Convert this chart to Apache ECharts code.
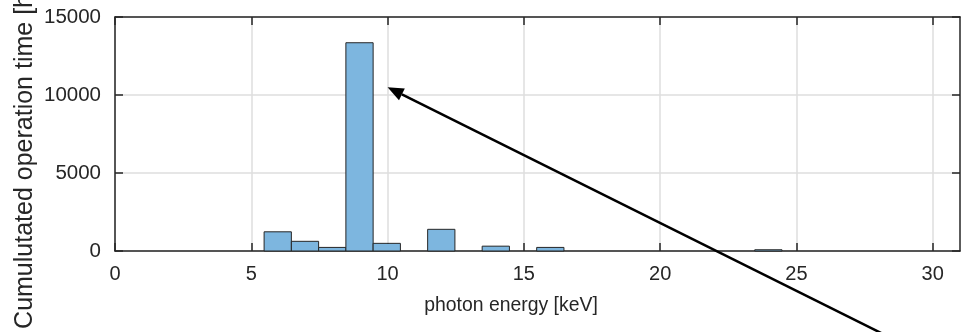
<!DOCTYPE html>
<html>
<head>
<meta charset="utf-8">
<script src="https://cdn.jsdelivr.net/npm/echarts@6/dist/echarts.min.js"></script>
<style>
  html, body { margin: 0; padding: 0; background: #fff; }
  #chart { width: 966px; height: 332px; }
</style>
</head>
<body>
<div id="chart"></div>
<script>
// histogram bins (left edge, keV) and counts (hours)
const binStarts = [5.47, 6.47, 7.47, 8.47, 9.47, 11.47, 13.47, 15.47, 23.47];
const binCounts = [1230, 620, 230, 13350, 490, 1390, 310, 230, 80];
const binWidth = 1;

const xTicks = [0, 5, 10, 15, 20, 25, 30];
const yTicks = [0, 5000, 10000, 15000];

// arrow annotation, in data coords: tip and tail
const arrowTip = [10, 10500];
const arrowTail = [28.5, -5600];

const font = 'Liberation Sans, Arial, Helvetica, sans-serif';
const axisColor = '#262626';
const gridColor = '#dedede';

const chart = echarts.init(document.getElementById('chart'));

const baseX = {
  type: 'value',
  min: 0,
  max: 31,
  interval: 5,
  axisLine: { show: true, onZero: false, lineStyle: { color: axisColor, width: 1.5 } },
  axisTick: { show: true, inside: true, length: 8, lineStyle: { color: axisColor, width: 1.5 },
    customValues: xTicks },
  splitLine: { show: false }
};
const baseY = {
  type: 'value',
  min: 0,
  max: 15000,
  interval: 5000,
  axisLine: { show: true, onZero: false, lineStyle: { color: axisColor, width: 1.5 } },
  axisTick: { show: true, inside: true, length: 8, lineStyle: { color: axisColor, width: 1.5 } },
  splitLine: { show: false }
};

const option = {
  animation: false,
  grid: { left: 115, top: 17, right: 6, bottom: 81, containLabel: false },
  xAxis: [
    Object.assign({}, baseX, {
      position: 'bottom',
      axisLabel: { color: axisColor, fontSize: 20, fontFamily: font, margin: 13,
        customValues: xTicks, formatter: v => String(v) },
      splitLine: { show: true, lineStyle: { color: gridColor, width: 1.5 } }
    }),
    Object.assign({}, baseX, { position: 'top', axisLabel: { show: false } })
  ],
  yAxis: [
    Object.assign({}, baseY, {
      position: 'left',
      axisLabel: { color: axisColor, fontSize: 20.5, fontFamily: font, margin: 14,
        customValues: yTicks, formatter: v => String(v) },
      splitLine: { show: true, lineStyle: { color: gridColor, width: 1.5 } }
    }),
    Object.assign({}, baseY, { position: 'right', axisLabel: { show: false } })
  ],
  series: [{
    type: 'custom',
    xAxisIndex: 0,
    yAxisIndex: 0,
    data: binStarts.map((s, i) => [s, binCounts[i]]),
    renderItem: function (params, api) {
      const start = api.value(0);
      const p0 = api.coord([start, api.value(1)]);
      const p1 = api.coord([start + binWidth, 0]);
      return {
        type: 'rect',
        shape: { x: p0[0], y: p0[1], width: p1[0] - p0[0], height: p1[1] - p0[1] },
        style: { fill: '#7db6df', stroke: '#262626', lineWidth: 1 }
      };
    },
    z: 3
  }]
};

chart.setOption(option);

// arrow + axis titles as graphic elements
const tip = chart.convertToPixel({ xAxisIndex: 0, yAxisIndex: 0 }, arrowTip);
const tail = chart.convertToPixel({ xAxisIndex: 0, yAxisIndex: 0 }, arrowTail);
const ang = Math.atan2(tip[1] - tail[1], tip[0] - tail[0]);
const headLen = 16, headHalf = 6.5;
const bx = tip[0] - headLen * Math.cos(ang), by = tip[1] - headLen * Math.sin(ang);
const nx = -Math.sin(ang), ny = Math.cos(ang);

chart.setOption({
  graphic: [
    {
      type: 'line',
      shape: { x1: tail[0], y1: tail[1], x2: bx, y2: by },
      style: { stroke: '#000', lineWidth: 2.5 },
      z: 10
    },
    {
      type: 'polygon',
      shape: { points: [[tip[0], tip[1]], [bx + nx * headHalf, by + ny * headHalf], [bx - nx * headHalf, by - ny * headHalf]] },
      style: { fill: '#000' },
      z: 10
    },
    {
      type: 'text',
      x: 511, y: 306,
      style: { text: 'photon energy [keV]', fill: axisColor, font: '19.4px ' + font,
        align: 'center', verticalAlign: 'middle' }
    },
    {
      type: 'text',
      x: 25, y: 158,
      rotation: Math.PI / 2,
      style: { text: 'Cumulutated operation time [h]', fill: axisColor, font: '25px ' + font,
        align: 'center', verticalAlign: 'middle' }
    }
  ]
});
</script>
</body>
</html>
